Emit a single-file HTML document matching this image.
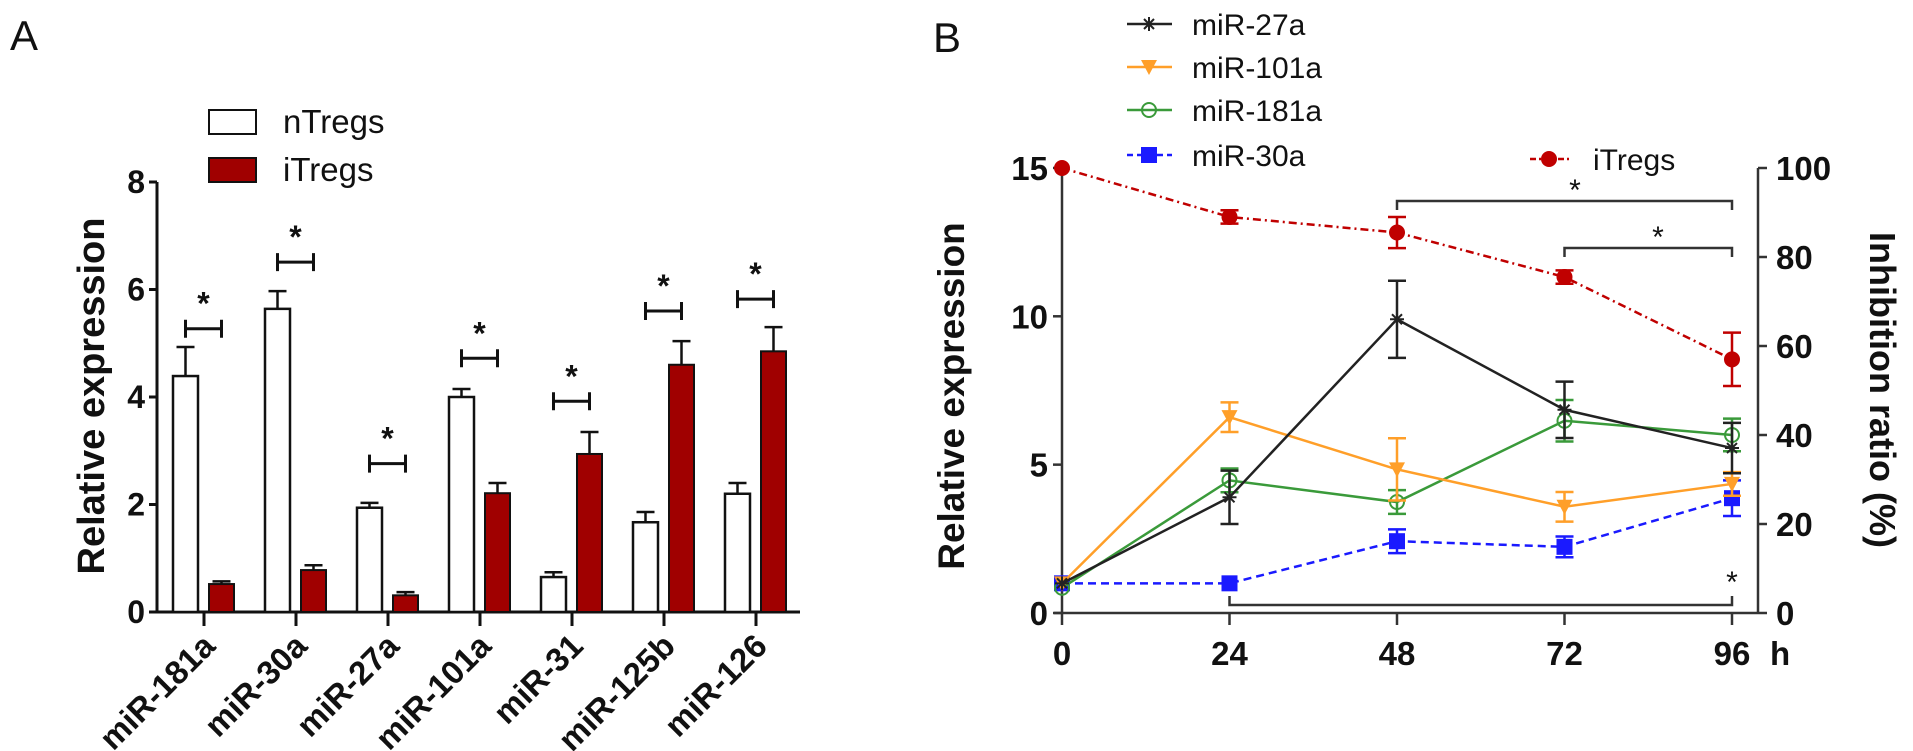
<!DOCTYPE html>
<html><head><meta charset="utf-8"><style>
html,body{margin:0;padding:0;background:#fff;}
svg{display:block;font-family:"Liberation Sans",Arial,sans-serif;}
</style></head><body>
<svg id="fig" width="1913" height="751" viewBox="0 0 1913 751"></svg>
<script>
// ---------- Panel A data ----------
const catsA = ["miR-181a","miR-30a","miR-27a","miR-101a","miR-31","miR-125b","miR-126"];
const nTregs = [4.39,5.64,1.94,4.0,0.65,1.67,2.2];
const nTregsErr = [0.54,0.33,0.09,0.15,0.09,0.19,0.2];
const iTregs = [0.52,0.78,0.31,2.21,2.94,4.6,4.85];
const iTregsErr = [0.05,0.09,0.06,0.19,0.41,0.44,0.45];
const sigA = [5.27,6.51,2.76,4.72,3.92,5.6,5.82];
const ticksA = [0,2,4,6,8];
// ---------- Panel B data ----------
const hours = [0,24,48,72,96];
const mir27a = [1,3.9,9.9,6.85,5.56];
const mir27aErr = [0.1,0.9,1.3,0.95,0.85];
const mir101a = [1,6.6,4.84,3.58,4.35];
const mir101aErr = [0.1,0.5,1.05,0.5,0.4];
const mir181a = [0.85,4.47,3.74,6.48,6.0];
const mir181aErr = [0.1,0.4,0.4,0.7,0.55];
const mir30a = [1.0,1.0,2.42,2.23,3.87];
const mir30aErr = [0.1,0.1,0.4,0.35,0.6];
const itregPct = [100,89,85.5,75.5,57];
const itregErr = [0,1.5,3.5,1.5,6];
const ticksBL = [0,5,10,15];
const ticksBR = [0,20,40,60,80,100];

const svg = document.getElementById('fig');
const NS = 'http://www.w3.org/2000/svg';
function mk(tag, attrs, parent){
  const e = document.createElementNS(NS, tag);
  for (const k in attrs) e.setAttribute(k, attrs[k]);
  (parent||svg).appendChild(e);
  return e;
}
function txt(s, attrs, parent){ const t = mk('text', attrs, parent); t.textContent = s; return t; }

// ===== Panel A =====
const axA = {x0:157, y0:612, ppu:53.75, tick0:204, step:92};
const yA = v => axA.y0 - v*axA.ppu;
const xA = i => axA.tick0 + i*axA.step;
const gA = mk('g', {});


const la = txt('A', {x:10, y:50, 'font-size':42, fill:'#111'}, gA);


const ayA = mk('line', {x1:axA.x0, y1:yA(8), x2:axA.x0, y2:axA.y0, stroke:'#111','stroke-width':3}, gA);


const axlA = mk('line', {x1:axA.x0, y1:axA.y0, x2:800, y2:axA.y0, stroke:'#111','stroke-width':3}, gA);


ticksA.forEach(t=>{
  mk('line',{x1:axA.x0-8,y1:yA(t),x2:axA.x0,y2:yA(t),stroke:'#111','stroke-width':3},gA);
  const tl = txt(String(t),{x:axA.x0-12,y:yA(t)+11,'font-size':32,'font-weight':'bold','text-anchor':'end',fill:'#111'},gA);
  
  
});
const ylA = txt('Relative expression',{x:0,y:0,'font-size':38,'font-weight':'bold','text-anchor':'middle',fill:'#111',transform:'translate(104,396) rotate(-90)'},gA);


function errBar(g, x, v, e, yfn, col, w){
  const y1 = yfn(v), y2 = yfn(v+e);
  mk('line',{x1:x,y1:y1,x2:x,y2:y2,stroke:col,'stroke-width':2.5},g);
  mk('line',{x1:x-w,y1:y2,x2:x+w,y2:y2,stroke:col,'stroke-width':2.5},g);
}
catsA.forEach((c,i)=>{
  const cx = xA(i);
  mk('line',{x1:cx,y1:axA.y0,x2:cx,y2:axA.y0+14,stroke:'#111','stroke-width':3},gA);
  const wx = cx-31, rx = cx+5;
  errBar(gA, wx+12.5, nTregs[i], nTregsErr[i], yA, '#111', 9);
  const b1 = mk('rect',{x:wx,y:yA(nTregs[i]),width:25,height:axA.y0-yA(nTregs[i]),fill:'#fff',stroke:'#111','stroke-width':2.5},gA);
  
  
  errBar(gA, rx+12.5, iTregs[i], iTregsErr[i], yA, '#111', 9);
  const b2 = mk('rect',{x:rx,y:yA(iTregs[i]),width:25,height:axA.y0-yA(iTregs[i]),fill:'#a00000',stroke:'#111','stroke-width':2},gA);
  
  
  const by = yA(sigA[i]), bx1 = wx+12.5, bx2 = rx+12.5;
  const br = mk('path',{d:`M${bx1},${by-9}V${by+9}M${bx1},${by}H${bx2}M${bx2},${by-9}V${by+9}`,stroke:'#111','stroke-width':3,fill:'none'},gA);
  
  
  const st = txt('*',{x:(bx1+bx2)/2,y:by-14,'font-size':32,'font-weight':'bold','text-anchor':'middle',fill:'#111'},gA);
  
  
  const cl = txt(c,{x:0,y:0,'font-size':33,'font-weight':'bold','text-anchor':'end',fill:'#111',transform:`translate(${cx+13},${axA.y0+36}) rotate(-45)`},gA);
  
  
});
const lg1 = mk('rect',{x:209,y:110,width:47,height:24,fill:'#fff',stroke:'#111','stroke-width':2},gA);


const lt1 = txt('nTregs',{x:283,y:133,'font-size':33,fill:'#111'},gA);


const lg2 = mk('rect',{x:209,y:158,width:47,height:24,fill:'#a00000',stroke:'#111','stroke-width':2},gA);


const lt2 = txt('iTregs',{x:283,y:181,'font-size':33,fill:'#111'},gA);



// ===== Panel B =====
const axB = {x0:1062, x1:1758, y0:613, ppu:29.67, hstep:167.5/24};
const xB = h => axB.x0 + h*axB.hstep;
const yB = v => axB.y0 - v*axB.ppu;
const yR = p => axB.y0 - p*(axB.y0-168)/100;
const gB = mk('g', {});


const lb = txt('B',{x:933,y:52,'font-size':42,fill:'#111'},gB);


const yl = mk('line',{x1:axB.x0,y1:yB(15),x2:axB.x0,y2:axB.y0,stroke:'#333','stroke-width':2.5},gB);


const yr = mk('line',{x1:axB.x1,y1:yR(100),x2:axB.x1,y2:axB.y0,stroke:'#333','stroke-width':2.5},gB);


const xl = mk('line',{x1:axB.x0-8,y1:axB.y0,x2:axB.x1,y2:axB.y0,stroke:'#333','stroke-width':2.5},gB);


ticksBL.forEach(t=>{
  mk('line',{x1:axB.x0-9,y1:yB(t),x2:axB.x0,y2:yB(t),stroke:'#333','stroke-width':2.5},gB);
  const tl = txt(String(t),{x:axB.x0-14,y:yB(t)+12,'font-size':33,'font-weight':'bold','text-anchor':'end',fill:'#111'},gB);
  
  
});
ticksBR.forEach(t=>{
  mk('line',{x1:axB.x1,y1:yR(t),x2:axB.x1+9,y2:yR(t),stroke:'#333','stroke-width':2.5},gB);
  const tl = txt(String(t),{x:axB.x1+18,y:yR(t)+12,'font-size':33,'font-weight':'bold','text-anchor':'start',fill:'#111'},gB);
  
  
});
hours.forEach(h=>{
  mk('line',{x1:xB(h),y1:axB.y0,x2:xB(h),y2:axB.y0+12,stroke:'#333','stroke-width':2.5},gB);
  const tl = txt(String(h),{x:xB(h),y:axB.y0+52,'font-size':33,'font-weight':'bold','text-anchor':'middle',fill:'#111'},gB);
  
  
});
const hl = txt('h',{x:1770,y:axB.y0+52,'font-size':33,'font-weight':'bold',fill:'#111'},gB);


const ylB = txt('Relative expression',{x:0,y:0,'font-size':37,'font-weight':'bold','text-anchor':'middle',fill:'#111',transform:'translate(964,396) rotate(-90)'},gB);


const yrB = txt('Inhibition ratio (%)',{x:0,y:0,'font-size':36,'font-weight':'bold','text-anchor':'middle',fill:'#111',transform:'translate(1870,390) rotate(90)'},gB);



function marker(g, type, x, y, col){
  if(type==='star'){
    const p = `M${x-7},${y}H${x+7}M${x},${y-7}V${y+7}M${x-5},${y-5}L${x+5},${y+5}M${x-5},${y+5}L${x+5},${y-5}`;
    return mk('path',{d:p,stroke:col,'stroke-width':2},g);
  }
  if(type==='tri') return mk('path',{d:`M${x-8},${y-7}L${x+8},${y-7}L${x},${y+8}Z`,fill:col},g);
  if(type==='ocirc') return mk('circle',{cx:x,cy:y,r:7,fill:'#fff','fill-opacity':0,stroke:col,'stroke-width':2},g);
  if(type==='sq') return mk('rect',{x:x-8,y:y-8,width:16,height:16,fill:col},g);
  return mk('circle',{cx:x,cy:y,r:8,fill:col},g);
}
const series = [
  {name:'mir-30a', vals:mir30a, err:mir30aErr, col:'#1a1aff', m:'sq', dash:'8,5', yf:yB},
  {name:'mir-181a', vals:mir181a, err:mir181aErr, col:'#3a9a3a', m:'ocirc', dash:'', yf:yB},
  {name:'mir-101a', vals:mir101a, err:mir101aErr, col:'#ff9f29', m:'tri', dash:'', yf:yB},
  {name:'mir-27a', vals:mir27a, err:mir27aErr, col:'#222', m:'star', dash:'', yf:yB},
  {name:'itregs', vals:itregPct, err:itregErr, col:'#c00000', m:'circ', dash:'8,4,2,4', yf:yR},
];
series.forEach(s=>{
  const g = mk('g',{},gB);
  
  
  const pts = hours.map((h,i)=>`${xB(h)},${s.yf(s.vals[i])}`).join(' ');
  const ln = mk('polyline',{points:pts,fill:'none',stroke:s.col,'stroke-width':2.5,'stroke-dasharray':s.dash},g);
  
  
  hours.forEach((h,i)=>{
    if(s.err[i]>0.15 || s.name==='itregs' && s.err[i]>0){
      const x=xB(h), ya=s.yf(s.vals[i]+s.err[i]), yb=s.yf(s.vals[i]-s.err[i]);
      mk('path',{d:`M${x},${ya}V${yb}M${x-9},${ya}H${x+9}M${x-9},${yb}H${x+9}`,stroke:s.col,'stroke-width':2.5,fill:'none'},g);
    }
    const mm = marker(g, s.m, xB(h), s.yf(s.vals[i]), s.col);
    
    
  });
});
function bracketB(h1,h2,y,down,sx,sy){
  const d = down?9:-9;
  const p = mk('path',{d:`M${xB(h1)},${y+d}V${y}H${xB(h2)}V${y+d}`,stroke:'#333','stroke-width':2.5,fill:'none'},gB);
  
  
  const t = txt('*',{x:sx,y:sy,'font-size':30,'text-anchor':'middle',fill:'#111'},gB);
  
  
}
bracketB(48,96,201,true,1575,200);
bracketB(72,96,248,true,1658,247);
bracketB(24,96,605,false,xB(96),592);
const legB = [
  {label:'miR-27a', col:'#222', m:'star', dash:'', y:24},
  {label:'miR-101a', col:'#ff9f29', m:'tri', dash:'', y:67},
  {label:'miR-181a', col:'#3a9a3a', m:'ocirc', dash:'', y:110},
  {label:'miR-30a', col:'#1a1aff', m:'sq', dash:'6,4', y:155},
];
legB.forEach(l=>{
  const g = mk('g',{},gB);
  
  
  mk('line',{x1:1127,y1:l.y,x2:1172,y2:l.y,stroke:l.col,'stroke-width':2.5,'stroke-dasharray':l.dash},g);
  marker(g,l.m,1149,l.y,l.col);
  txt(l.label,{x:1192,y:l.y+11,'font-size':30,fill:'#111'},g);
});
const gi = mk('g',{},gB);


mk('line',{x1:1530,y1:159,x2:1570,y2:159,stroke:'#c00000','stroke-width':2.5,'stroke-dasharray':'6,3,2,3'},gi);
marker(gi,'circ',1549,159,'#c00000');
txt('iTregs',{x:1593,y:170,'font-size':30,fill:'#111'},gi);
</script>
</body></html>
